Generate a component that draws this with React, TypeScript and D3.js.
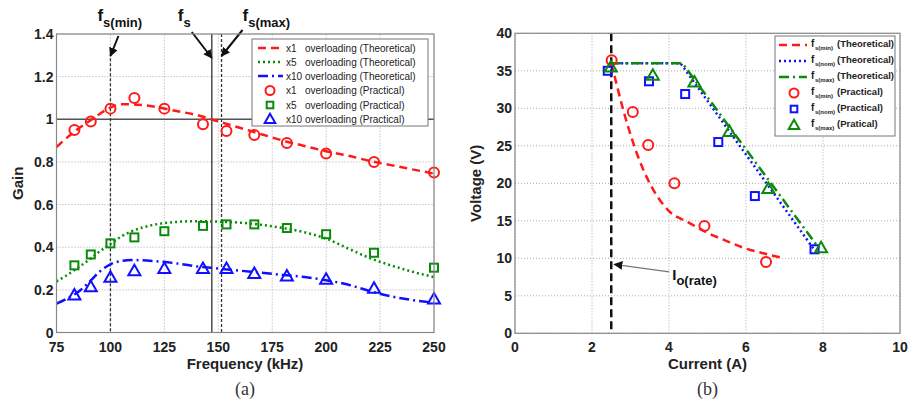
import React, { useEffect, useRef } from 'react';
import * as d3 from 'd3';

// ---- panel (a): gain vs frequency ----
const freqTicks = [75, 100, 125, 150, 175, 200, 225, 250];
const gainTicks = [0, 0.2, 0.4, 0.6, 0.8, 1, 1.2, 1.4];

const theoFreq = [75, 80, 85, 90, 95, 100, 105, 110, 120, 130, 140, 150, 160, 170, 180, 190, 200, 210, 220, 230, 240, 250];
const theoX1 = [0.87, 0.915, 0.955, 0.99, 1.025, 1.055, 1.07, 1.07, 1.06, 1.04, 1.02, 0.99, 0.96, 0.93, 0.9, 0.875, 0.85, 0.83, 0.805, 0.785, 0.765, 0.745];
const theoX5 = [0.24, 0.27, 0.305, 0.34, 0.38, 0.415, 0.45, 0.475, 0.505, 0.518, 0.522, 0.52, 0.515, 0.505, 0.49, 0.47, 0.44, 0.395, 0.35, 0.315, 0.285, 0.26];
const theoX10 = [0.135, 0.16, 0.19, 0.235, 0.285, 0.32, 0.335, 0.34, 0.335, 0.325, 0.31, 0.3, 0.29, 0.28, 0.27, 0.26, 0.245, 0.225, 0.195, 0.17, 0.152, 0.14];

const measFreq = [83.3, 90.9, 100, 111.1, 125, 142.9, 153.8, 166.7, 181.8, 200, 222.2, 250];
const measX1 = [0.95, 0.99, 1.05, 1.1, 1.05, 0.977, 0.945, 0.926, 0.889, 0.84, 0.8, 0.75];
const measX5 = [0.315, 0.366, 0.418, 0.446, 0.475, 0.5, 0.507, 0.507, 0.49, 0.461, 0.374, 0.304];
const measX10 = [0.176, 0.215, 0.259, 0.29, 0.3, 0.3, 0.3, 0.277, 0.265, 0.25, 0.207, 0.157];

const fsMin = 100;
const fsNom = 147;
const fsMax = 151.5;

// ---- panel (b): voltage vs current ----
const currentTicks = [0, 2, 4, 6, 8, 10];
const voltTicks = [0, 5, 10, 15, 20, 25, 30, 35, 40];

const minTheoI = [2.5, 2.6, 2.8, 3.0, 3.2, 3.5, 4.0, 4.5, 5.0, 5.5, 6.0, 6.5, 7.0];
const minTheoV = [36, 34, 30, 26.5, 23.5, 20, 16.3, 14.8, 13.4, 12.3, 11.3, 10.6, 10];
const nomTheoI = [2.5, 4.3, 7.75];
const nomTheoV = [36, 36, 11.3];
const maxTheoI = [2.5, 4.35, 7.9];
const maxTheoV = [36, 36, 11.3];

const minPracI = [2.51, 3.06, 3.46, 4.14, 4.92, 6.52];
const minPracV = [36.4, 29.5, 25.1, 20, 14.3, 9.5];
const nomPracI = [2.41, 3.48, 4.42, 5.28, 6.23, 7.78];
const nomPracV = [35, 33.6, 31.9, 25.5, 18.3, 11.2];
const maxPracI = [2.49, 3.58, 4.66, 5.57, 6.58, 7.95];
const maxPracV = [35.5, 34.4, 33.5, 26.9, 19.3, 11.4];

const ioRate = 2.5;

const RED = '#ff1a1a';
const GREEN = '#0a8a0a';
const BLUE = '#1010ff';
const FONT = 'Liberation Sans, Arial, sans-serif';

const DASH = '8,5';
const DOT = '2,3';
const DASHDOT = '10,4,2,4';

function marker(g, kind, x, y, color, size = 5) {
  if (kind === 'circle') {
    g.append('circle').attr('cx', x).attr('cy', y).attr('r', size)
      .attr('fill', 'none').attr('stroke', color).attr('stroke-width', 2);
  } else if (kind === 'square') {
    g.append('rect').attr('x', x - size + 0.5).attr('y', y - size + 0.5)
      .attr('width', 2 * size - 1).attr('height', 2 * size - 1)
      .attr('fill', 'none').attr('stroke', color).attr('stroke-width', 2);
  } else {
    const s = size + 1.5;
    g.append('path')
      .attr('d', `M${x},${y - s}L${x + s},${y + s * 0.75}L${x - s},${y + s * 0.75}Z`)
      .attr('fill', 'none').attr('stroke', color).attr('stroke-width', 2);
  }
}

function frame(svg, x, y, xTicks, yTicks, fmtY) {
  const [x0, x1] = x.range();
  const [y0, y1] = y.range();
  const g = svg.append('g');
  // grid
  xTicks.forEach((t) => {
    g.append('line').attr('x1', x(t)).attr('x2', x(t)).attr('y1', y0).attr('y2', y1)
      .attr('stroke', '#aaa').attr('stroke-dasharray', '1,2');
  });
  yTicks.forEach((t) => {
    g.append('line').attr('x1', x0).attr('x2', x1).attr('y1', y(t)).attr('y2', y(t))
      .attr('stroke', '#aaa').attr('stroke-dasharray', '1,2');
  });
  // labels
  xTicks.forEach((t) => {
    g.append('text').attr('x', x(t)).attr('y', y0 + 19).attr('text-anchor', 'middle')
      .attr('font-family', FONT).attr('font-weight', 'bold').attr('font-size', 14)
      .attr('fill', '#222').text(t);
  });
  yTicks.forEach((t) => {
    g.append('text').attr('x', x0 - 3).attr('y', y(t) + 5).attr('text-anchor', 'end')
      .attr('font-family', FONT).attr('font-weight', 'bold').attr('font-size', 14)
      .attr('fill', '#222').text(fmtY(t));
  });
  return g;
}

function box(svg, x, y) {
  const [x0, x1] = x.range();
  const [y0, y1] = y.range();
  svg.append('rect').attr('x', x0).attr('y', y1).attr('width', x1 - x0).attr('height', y0 - y1)
    .attr('fill', 'none').attr('stroke', '#888').attr('stroke-width', 1.2);
}

const App = () => {
  const svgRef = useRef();

  useEffect(() => {
    const svg = d3.select(svgRef.current);
    svg.selectAll('*').remove();

    const defs = svg.append('defs');
    defs.append('marker').attr('id', 'arr').attr('viewBox', '0 0 10 10')
      .attr('refX', 9).attr('refY', 5).attr('markerWidth', 9).attr('markerHeight', 9)
      .attr('markerUnits', 'userSpaceOnUse').attr('orient', 'auto')
      .append('path').attr('d', 'M0,0L10,5L0,10Z').attr('fill', '#111');

    // ================= panel (a) =================
    const xa = d3.scaleLinear().domain([75, 250]).range([56.5, 434]);
    const ya = d3.scaleLinear().domain([0, 1.4]).range([332.5, 34]);
    frame(svg, xa, ya, freqTicks, gainTicks, (t) => (t === 0 || t === 1 ? String(t) : t.toFixed(1)));

    const ga = svg.append('g');
    // reference lines
    ga.append('line').attr('x1', xa(75)).attr('x2', xa(250)).attr('y1', ya(1)).attr('y2', ya(1))
      .attr('stroke', '#555').attr('stroke-width', 1.5);
    ga.append('line').attr('x1', xa(fsMin)).attr('x2', xa(fsMin)).attr('y1', ya(1.31)).attr('y2', ya(0))
      .attr('stroke', '#333').attr('stroke-width', 1.3).attr('stroke-dasharray', '3,2');
    ga.append('line').attr('x1', xa(fsNom)).attr('x2', xa(fsNom)).attr('y1', ya(1.4)).attr('y2', ya(0))
      .attr('stroke', '#333').attr('stroke-width', 1.3);
    ga.append('line').attr('x1', xa(fsMax)).attr('x2', xa(fsMax)).attr('y1', ya(1.4)).attr('y2', ya(0))
      .attr('stroke', '#333').attr('stroke-width', 1.3).attr('stroke-dasharray', '3,2');

    const lineA = (ys) => d3.line()
      .x((d, i) => xa(theoFreq[i]))
      .y((d) => ya(d))
      .curve(d3.curveMonotoneX)(ys);

    ga.append('path').attr('d', lineA(theoX1)).attr('fill', 'none').attr('stroke', RED)
      .attr('stroke-width', 2.5).attr('stroke-dasharray', DASH);
    ga.append('path').attr('d', lineA(theoX5)).attr('fill', 'none').attr('stroke', GREEN)
      .attr('stroke-width', 2.5).attr('stroke-dasharray', DOT);
    ga.append('path').attr('d', lineA(theoX10)).attr('fill', 'none').attr('stroke', BLUE)
      .attr('stroke-width', 2.5).attr('stroke-dasharray', DASHDOT);

    measFreq.forEach((f, i) => {
      marker(ga, 'circle', xa(f), ya(measX1[i]), RED);
      marker(ga, 'square', xa(f), ya(measX5[i]), GREEN, 4.5);
      marker(ga, 'triangle', xa(f), ya(measX10[i]), BLUE, 4.5);
    });

    // f_s annotations
    const fLabel = (x, y, sub) => {
      const t = svg.append('text').attr('x', x).attr('y', y).attr('font-family', FONT)
        .attr('font-weight', 'bold').attr('fill', '#111');
      t.append('tspan').attr('font-size', 17).text('f');
      t.append('tspan').attr('font-size', 13).attr('dy', 6).text(sub);
    };
    fLabel(xa(fsMin) - 13, 21, 's(min)');
    fLabel(xa(fsNom) - 34, 21, 's');
    fLabel(xa(fsMax) + 21, 21, 's(max)');
    const arrow = (xFrom, yFrom, xTo, yTo) => {
      svg.append('line').attr('x1', xFrom).attr('y1', yFrom).attr('x2', xTo).attr('y2', yTo)
        .attr('stroke', '#111').attr('stroke-width', 2).attr('marker-end', 'url(#arr)');
    };
    arrow(xa(fsMin) + 8, 36, xa(fsMin), 56);
    arrow(xa(fsNom) - 20, 32, xa(fsNom), 58);
    arrow(xa(fsMax) + 21, 30, xa(fsMax), 56);

    // legend (a)
    const la = svg.append('g');
    la.append('rect').attr('x', 252).attr('y', 39).attr('width', 176).attr('height', 87)
      .attr('fill', '#fff').attr('stroke', '#777').attr('stroke-width', 1);
    const legA = [
      { kind: 'line', color: RED, dash: DASH, tag: 'x1', label: 'overloading (Theoretical)' },
      { kind: 'line', color: GREEN, dash: DOT, tag: 'x5', label: 'overloading (Theoretical)' },
      { kind: 'line', color: BLUE, dash: DASHDOT, tag: 'x10', label: 'overloading (Theoretical)' },
      { kind: 'circle', color: RED, tag: 'x1', label: 'overloading (Practical)' },
      { kind: 'square', color: GREEN, tag: 'x5', label: 'overloading (Practical)' },
      { kind: 'triangle', color: BLUE, tag: 'x10', label: 'overloading (Practical)' },
    ];
    const rowsA = [48, 62, 76, 90.5, 105, 119];
    legA.forEach((d, i) => {
      const y = rowsA[i];
      if (d.kind === 'line') {
        la.append('line').attr('x1', 258).attr('x2', 283).attr('y1', y).attr('y2', y)
          .attr('stroke', d.color).attr('stroke-width', 2.5).attr('stroke-dasharray', d.dash);
      } else {
        marker(la, d.kind, 270, y, d.color, d.kind === 'circle' ? 4.5 : 3.8);
      }
      const t = la.append('text').attr('y', y + 3.5).attr('font-family', FONT)
        .attr('font-size', 10).attr('fill', '#222');
      t.append('tspan').attr('x', 286).text(d.tag);
      t.append('tspan').attr('x', 305).text(d.label);
    });

    box(svg, xa, ya);

    svg.append('text').attr('transform', `translate(23,${ya(0.7)}) rotate(-90)`)
      .attr('text-anchor', 'middle').attr('font-family', FONT).attr('font-weight', 'bold')
      .attr('font-size', 15).attr('fill', '#222').text('Gain');
    svg.append('text').attr('x', 245).attr('y', 369).attr('text-anchor', 'middle')
      .attr('font-family', FONT).attr('font-weight', 'bold').attr('font-size', 15)
      .attr('fill', '#222').text('Frequency (kHz)');
    svg.append('text').attr('x', 245).attr('y', 395).attr('text-anchor', 'middle')
      .attr('font-family', 'Liberation Serif, Times New Roman, serif').attr('font-size', 18)
      .attr('fill', '#333').text('(a)');

    // ================= panel (b) =================
    const xb = d3.scaleLinear().domain([0, 10]).range([515, 900]);
    const yb = d3.scaleLinear().domain([0, 40]).range([333.3, 33.3]);
    frame(svg, xb, yb, currentTicks, voltTicks, (t) => String(t));

    const gb = svg.append('g');
    gb.append('line').attr('x1', xb(ioRate)).attr('x2', xb(ioRate)).attr('y1', yb(40)).attr('y2', yb(0))
      .attr('stroke', '#111').attr('stroke-width', 2.5).attr('stroke-dasharray', '8,4');

    const lineB = (xs, ys, curve) => d3.line()
      .x((d, i) => xb(xs[i]))
      .y((d) => yb(d))
      .curve(curve)(ys);

    gb.append('path').attr('d', lineB(minTheoI, minTheoV, d3.curveMonotoneX)).attr('fill', 'none')
      .attr('stroke', RED).attr('stroke-width', 2.5).attr('stroke-dasharray', DASH);
    gb.append('path').attr('d', lineB(nomTheoI, nomTheoV, d3.curveLinear)).attr('fill', 'none')
      .attr('stroke', BLUE).attr('stroke-width', 2.5).attr('stroke-dasharray', DOT);
    gb.append('path').attr('d', lineB(maxTheoI, maxTheoV, d3.curveLinear)).attr('fill', 'none')
      .attr('stroke', GREEN).attr('stroke-width', 2.5).attr('stroke-dasharray', DASHDOT);

    minPracI.forEach((c, i) => marker(gb, 'circle', xb(c), yb(minPracV[i]), RED));
    nomPracI.forEach((c, i) => marker(gb, 'square', xb(c), yb(nomPracV[i]), BLUE, 4.5));
    maxPracI.forEach((c, i) => marker(gb, 'triangle', xb(c), yb(maxPracV[i]), GREEN, 4.5));

    // I_o(rate) annotation
    svg.append('line').attr('x1', xb(ioRate) + 58).attr('y1', yb(8.2)).attr('x2', xb(ioRate) + 3).attr('y2', yb(9.2))
      .attr('stroke', '#777').attr('stroke-width', 1.2).attr('marker-end', 'url(#arr)');
    const io = svg.append('text').attr('x', xb(ioRate) + 61).attr('y', 280).attr('font-family', FONT)
      .attr('font-weight', 'bold').attr('fill', '#111');
    io.append('tspan').attr('font-size', 15).text('I');
    io.append('tspan').attr('font-size', 13).attr('dy', 5).text('o(rate)');

    // legend (b)
    const lb = svg.append('g');
    lb.append('rect').attr('x', 775).attr('y', 36).attr('width', 120).attr('height', 100)
      .attr('fill', '#fff').attr('stroke', '#777').attr('stroke-width', 1);
    const legB = [
      { kind: 'line', color: RED, dash: DASH, sub: 's(min)', label: '(Theoretical)' },
      { kind: 'line', color: BLUE, dash: DOT, sub: 's(nom)', label: '(Theoretical)' },
      { kind: 'line', color: GREEN, dash: DASHDOT, sub: 's(max)', label: '(Theoretical)' },
      { kind: 'circle', color: RED, sub: 's(min)', label: '(Practical)' },
      { kind: 'square', color: BLUE, sub: 's(nom)', label: '(Practical)' },
      { kind: 'triangle', color: GREEN, sub: 's(max)', label: '(Pratical)' },
    ];
    const rowsB = [45, 61, 77, 93, 109, 125];
    legB.forEach((d, i) => {
      const y = rowsB[i];
      if (d.kind === 'line') {
        lb.append('line').attr('x1', 779).attr('x2', 807).attr('y1', y).attr('y2', y)
          .attr('stroke', d.color).attr('stroke-width', 2.5).attr('stroke-dasharray', d.dash);
      } else {
        marker(lb, d.kind, 794, y, d.color, d.kind === 'circle' ? 4.5 : 3.8);
      }
      const t = lb.append('text').attr('y', y + 2).attr('font-family', FONT)
        .attr('font-weight', 'bold').attr('fill', '#222');
      t.append('tspan').attr('x', 811).attr('font-size', 10).text('f');
      t.append('tspan').attr('x', 815).attr('font-size', 6).attr('dy', 3).text(d.sub);
      t.append('tspan').attr('x', 837).attr('dy', -3).attr('font-size', 9.5).text(d.label);
    });

    box(svg, xb, yb);

    svg.append('text').attr('transform', `translate(481,${yb(20)}) rotate(-90)`)
      .attr('text-anchor', 'middle').attr('font-family', FONT).attr('font-weight', 'bold')
      .attr('font-size', 15).attr('fill', '#222').text('Voltage (V)');
    svg.append('text').attr('x', xb(5)).attr('y', 369).attr('text-anchor', 'middle')
      .attr('font-family', FONT).attr('font-weight', 'bold').attr('font-size', 15)
      .attr('fill', '#222').text('Current (A)');
    svg.append('text').attr('x', xb(5)).attr('y', 395).attr('text-anchor', 'middle')
      .attr('font-family', 'Liberation Serif, Times New Roman, serif').attr('font-size', 18)
      .attr('fill', '#333').text('(b)');
  }, []);

  return (
    <svg ref={svgRef} width={909} height={405}
      style={{ position: 'absolute', left: 0, top: 0, background: '#fff' }} />
  );
};

export default App;
